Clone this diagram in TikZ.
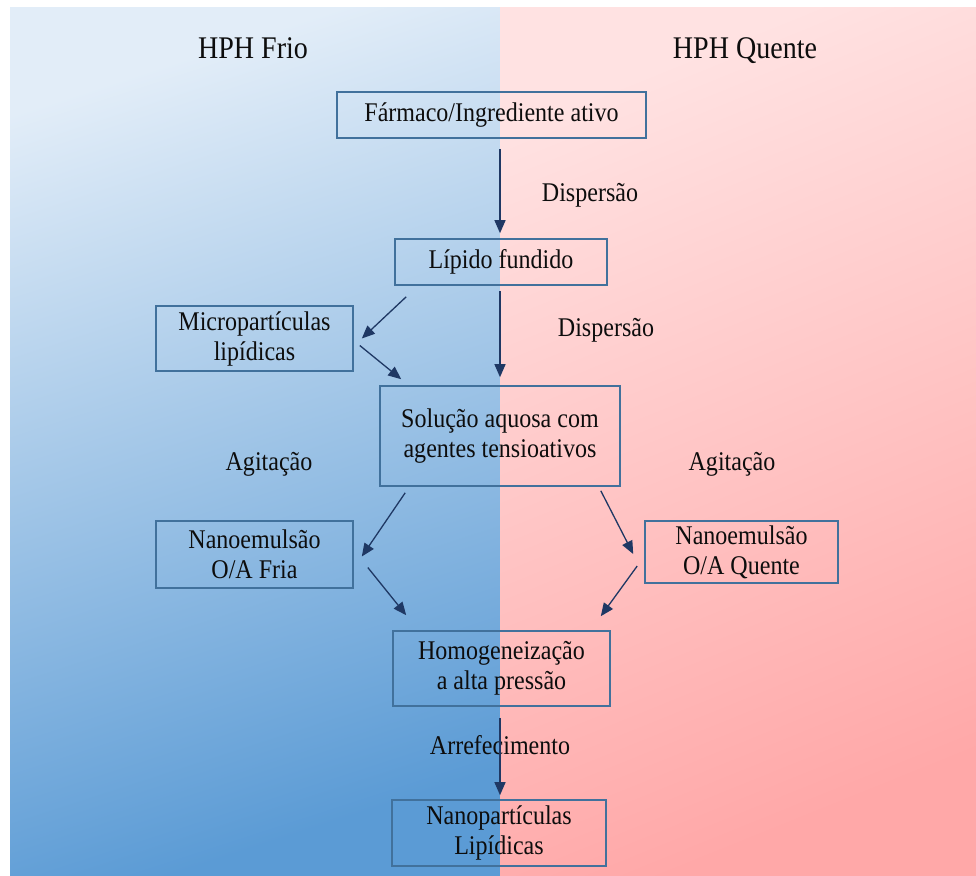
\documentclass[tikz,border=0pt]{standalone}
\usepackage{fontspec}
\setmainfont[FakeStretch=0.89]{Liberation Serif}
\usetikzlibrary{arrows.meta}
\definecolor{blA}{HTML}{E2EDF8}
\definecolor{blB}{HTML}{5B9BD5}
\definecolor{pkA}{HTML}{FFE2E2}
\definecolor{pkB}{HTML}{FFA8A8}
\definecolor{boxc}{HTML}{41719C}
\definecolor{arrc}{HTML}{1F3864}
\definecolor{txt}{HTML}{0D0D0D}
\begin{document}
\begin{tikzpicture}[x=1pt,y=-1pt,
  box/.style={draw=boxc, line width=1.6pt, align=center, inner sep=0pt,
    font=\fontsize{27}{30}\selectfont, text=txt},
  lbl/.style={font=\fontsize{27}{30}\selectfont, text=txt},
  hdr/.style={font=\fontsize{31.5}{36}\selectfont, text=txt, anchor=base},
  arr/.style={-{Triangle[length=13pt,width=11pt]}, draw=arrc, line width=1.3pt}]
\useasboundingbox (0,0) rectangle (976,875);
\shade[top color=blA, bottom color=blB, shading angle=18] (10,8) rectangle (500,875);
\shade[top color=pkA, bottom color=pkB, shading angle=22] (500,8) rectangle (976,875);

\node[hdr] (hf) at (253,59) {HPH Frio};
\node[hdr] (hq) at (745,59) {HPH Quente};

\node[box, minimum width=309pt, minimum height=46pt] (farm) at (491.5,115) {Fármaco/Ingrediente ativo};
\node[box, minimum width=212pt, minimum height=46pt] (lip) at (501,262) {Lípido fundido};
\node[box, minimum width=197pt, minimum height=65pt] (micro) at (254.5,338.5) {Micropartículas\\lipídicas};
\node[box, minimum width=240pt, minimum height=100pt] (sol) at (500,436) {Solução aquosa com\\agentes tensioativos};
\node[box, minimum width=197pt, minimum height=67pt] (nfria) at (254.5,554.5) {Nanoemulsão\\O/A Fria};
\node[box, minimum width=193pt, minimum height=62pt] (nquente) at (741.5,552) {Nanoemulsão\\O/A Quente};
\node[box, minimum width=217pt, minimum height=75pt] (homog) at (501.5,668.5) {Homogeneização\\a alta pressão};
\node[box, minimum width=214pt, minimum height=66pt] (nano) at (499,833) {Nanopartículas\\Lipídicas};

\node[lbl] (d1) at (590,195) {Dispersão};
\node[lbl] (d2) at (606,330) {Dispersão};
\node[lbl] (a1) at (269,464) {Agitação};
\node[lbl] (a2) at (732,464) {Agitação};
\node[lbl] (ar) at (500,745) {Arrefecimento};

\draw[arr] ([yshift=-10pt]farm.south -| 500,0) -- ([yshift=5pt]lip.north -| 500,0);
\draw[arr] ([xshift=12pt,yshift=-11pt]lip.south west) -- ([xshift=8pt]micro.east);
\draw[arr] ([xshift=6pt,yshift=-7pt]micro.east) -- ([xshift=22pt,yshift=6pt]sol.north west);
\draw[arr] ([yshift=-5pt]lip.south -| 500,0) -- ([yshift=8pt]sol.north -| 500,0);
\draw[arr] ([xshift=26pt,yshift=-6pt]sol.south west) -- ([xshift=8pt,yshift=-2pt]nfria.east);
\draw[arr] ([xshift=-20pt,yshift=-4pt]sol.south east) -- ([xshift=-11pt,yshift=-2pt]nquente.west);
\draw[arr] ([xshift=14pt,yshift=-13pt]nfria.east) -- ([xshift=14pt,yshift=15pt]homog.north west);
\draw[arr] ([xshift=-7pt,yshift=-14pt]nquente.west) -- ([xshift=-10pt,yshift=14pt]homog.north east);
\draw[arr] ([yshift=-11pt]homog.south -| 500,0) -- ([yshift=4pt]nano.north -| 500,0);
\end{tikzpicture}
\end{document}
